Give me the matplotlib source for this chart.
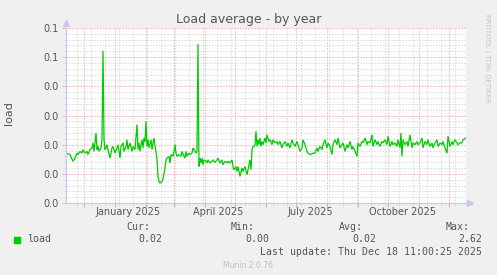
import numpy as np
import matplotlib
matplotlib.use("Agg")
import matplotlib.pyplot as plt

# ---------------- data ----------------
start_date = np.datetime64("2024-11-13T11:00")
end_date = np.datetime64("2025-12-18T11:00")

days = [0, 4, 7, 9, 11, 12, 14, 16, 17, 19, 21, 22, 24, 26, 27, 28, 30, 31, 32, 33,
        35, 36, 37, 38, 39, 40, 41, 42, 44, 46, 47, 49, 51, 52, 54, 55, 57, 58, 60, 61,
        62, 64, 66, 67, 69, 71, 72, 73, 74, 76, 77, 78, 79, 80, 81, 82, 83, 85, 86, 87,
        88, 89, 90, 91, 92, 93, 94, 96, 97, 99, 100, 101, 103, 104, 105, 107, 108, 109, 110, 111,
        113, 115, 116, 118, 119, 120, 121, 123, 124, 126, 127, 129, 130, 131, 132, 133, 134, 135, 136, 137,
        138, 140, 141, 142, 144, 146, 147, 149, 151, 152, 154, 156, 157, 159, 161, 162, 164, 166, 167, 168,
        170, 171, 172, 174, 176, 177, 179, 181, 182, 184, 185, 186, 187, 188, 189, 190, 191, 192, 193, 194,
        195, 196, 197, 199, 200, 201, 203, 204, 206, 207, 209, 211, 212, 214, 216, 217, 219, 221, 222, 224,
        226, 227, 229, 231, 232, 234, 236, 237, 239, 241, 242, 244, 246, 247, 249, 251, 252, 254, 256, 257,
        259, 261, 262, 264, 266, 267, 269, 271, 272, 274, 276, 277, 279, 281, 282, 284, 286, 287, 289, 291,
        292, 294, 296, 297, 299, 301, 302, 304, 306, 307, 309, 311, 312, 314, 316, 317, 319, 321, 322, 324,
        326, 327, 329, 331, 332, 334, 335, 336, 337, 339, 341, 342, 344, 346, 347, 349, 351, 352, 354, 356,
        357, 359, 361, 362, 364, 366, 367, 369, 371, 372, 374, 376, 377, 379, 381, 382, 384, 386, 387, 389,
        391, 392, 394, 396, 397, 400]

load = [0.0171, 0.0166, 0.0143, 0.0154, 0.0171, 0.0166, 0.0177, 0.0171, 0.0183, 0.0171,
        0.0177, 0.0166, 0.0183, 0.0189, 0.0206, 0.0177, 0.0240, 0.0183, 0.0194, 0.0177,
        0.0189, 0.0217, 0.0522, 0.0217, 0.0183, 0.0189, 0.0200, 0.0183, 0.0154, 0.0189,
        0.0194, 0.0171, 0.0189, 0.0200, 0.0154, 0.0194, 0.0206, 0.0177, 0.0194, 0.0217,
        0.0183, 0.0206, 0.0177, 0.0194, 0.0183, 0.0269, 0.0183, 0.0206, 0.0177, 0.0217,
        0.0189, 0.0223, 0.0211, 0.0280, 0.0194, 0.0217, 0.0189, 0.0217, 0.0183, 0.0206,
        0.0223, 0.0194, 0.0177, 0.0148, 0.0091, 0.0074, 0.0068, 0.0074, 0.0082, 0.0120,
        0.0148, 0.0154, 0.0160, 0.0137, 0.0166, 0.0160, 0.0177, 0.0200, 0.0171, 0.0160,
        0.0166, 0.0160, 0.0177, 0.0160, 0.0154, 0.0177, 0.0160, 0.0171, 0.0166, 0.0171,
        0.0189, 0.0177, 0.0171, 0.0177, 0.0545, 0.0125, 0.0154, 0.0137, 0.0154, 0.0131,
        0.0148, 0.0143, 0.0137, 0.0148, 0.0137, 0.0143, 0.0148, 0.0139, 0.0148, 0.0154,
        0.0137, 0.0148, 0.0131, 0.0143, 0.0137, 0.0143, 0.0137, 0.0148, 0.0125, 0.0114,
        0.0125, 0.0108, 0.0125, 0.0091, 0.0120, 0.0108, 0.0125, 0.0097, 0.0114, 0.0148,
        0.0114, 0.0183, 0.0194, 0.0194, 0.0200, 0.0246, 0.0194, 0.0217, 0.0200, 0.0223,
        0.0194, 0.0211, 0.0200, 0.0223, 0.0206, 0.0234, 0.0211, 0.0217, 0.0200, 0.0217,
        0.0206, 0.0211, 0.0200, 0.0211, 0.0189, 0.0200, 0.0211, 0.0194, 0.0206, 0.0189,
        0.0217, 0.0206, 0.0194, 0.0211, 0.0200, 0.0177, 0.0189, 0.0217, 0.0200, 0.0177,
        0.0171, 0.0166, 0.0168, 0.0171, 0.0171, 0.0189, 0.0177, 0.0194, 0.0183, 0.0200,
        0.0217, 0.0189, 0.0206, 0.0194, 0.0166, 0.0200, 0.0217, 0.0200, 0.0223, 0.0189,
        0.0200, 0.0206, 0.0177, 0.0200, 0.0189, 0.0211, 0.0183, 0.0194, 0.0177, 0.0160,
        0.0206, 0.0194, 0.0211, 0.0206, 0.0223, 0.0200, 0.0211, 0.0206, 0.0234, 0.0194,
        0.0217, 0.0200, 0.0211, 0.0194, 0.0211, 0.0206, 0.0217, 0.0200, 0.0229, 0.0194,
        0.0211, 0.0200, 0.0206, 0.0194, 0.0217, 0.0189, 0.0240, 0.0160, 0.0217, 0.0200,
        0.0211, 0.0194, 0.0234, 0.0189, 0.0206, 0.0200, 0.0211, 0.0200, 0.0206, 0.0223,
        0.0189, 0.0211, 0.0200, 0.0217, 0.0194, 0.0206, 0.0189, 0.0206, 0.0217, 0.0194,
        0.0206, 0.0200, 0.0211, 0.0189, 0.0171, 0.0229, 0.0194, 0.0211, 0.0200, 0.0217,
        0.0206, 0.0200, 0.0206, 0.0206, 0.0217, 0.0223]

assert len(days) == len(load)

y_ticks = [0.0, 0.01, 0.02, 0.03, 0.04, 0.05, 0.06]
y_tick_labels = ["0.0", "0.0", "0.0", "0.0", "0.0", "0.1", "0.1"]
x_label_dates = ["2025-01-14", "2025-04-15", "2025-07-16", "2025-10-16"]
x_labels = ["January 2025", "April 2025", "July 2025", "October 2025"]
month_starts = np.arange(np.datetime64("2024-12"), np.datetime64("2026-01"),
                         np.timedelta64(1, "M")).astype("datetime64[D]")
minor_dates = np.arange(np.datetime64("2024-11-24"), np.datetime64("2025-12-19"),
                        np.timedelta64(14, "D"))

legend_rows = {"Cur:": "0.02", "Min:": "0.00", "Avg:": "0.02", "Max:": "2.62"}
last_update = "Last update: Thu Dec 18 11:00:25 2025"

# ---------------- figure ----------------
W, H = 497, 275
fig = plt.figure(figsize=(W / 100, H / 100), dpi=100, facecolor="#f0f0f0")

def fx(px):
    return px / W

def fy(py):
    return 1 - py / H

ax = fig.add_axes([fx(66), fy(203), fx(466) - fx(66), fy(28) - fy(203)])
ax.set_facecolor("white")

x = start_date + np.array(days) * np.timedelta64(1, "D")
ax.plot(x, load, color="#00cc00", lw=0.9, solid_joinstyle="miter")

ax.set_xlim(start_date, end_date)
ax.set_ylim(0, 0.06)

# y ticks / grid
ax.set_yticks(y_ticks)
ax.set_yticklabels(y_tick_labels)
ax.set_yticks(np.arange(0, 0.0601, 0.002), minor=True)

# x ticks / grid
ax.set_xticks(month_starts)
ax.set_xticklabels([])
ax.set_xticks(minor_dates, minor=True)

dots = (0, (1.4, 1.4))
ax.grid(which="major", color="#f0b0b0", lw=0.72, linestyle=dots)
ax.grid(which="minor", color="#dadada", lw=0.72, linestyle=dots)
ax.set_axisbelow(True)

ax.tick_params(axis="y", which="major", length=3, width=0.7, color="#f0b0b0",
               labelsize=7, labelcolor="#555555", pad=2)
ax.tick_params(axis="y", which="minor", length=2, width=0.7, color="#dadada")
ax.tick_params(axis="x", which="major", length=3, width=0.7, color="#f0a0a0")
ax.tick_params(axis="x", which="minor", length=2, width=0.7, color="#dadada")

for s in ["top", "right"]:
    ax.spines[s].set_visible(False)
for s in ["left", "bottom"]:
    ax.spines[s].set_color("#c8c8f0")
    ax.spines[s].set_linewidth(0.9)

# axis arrows
ax.plot([0], [1.03], marker="^", ms=4, color="#c8c8f0", transform=ax.transAxes, clip_on=False)
ax.plot([1.01], [0], marker=">", ms=4, color="#c8c8f0", transform=ax.transAxes, clip_on=False)

# month labels
sec = ax.secondary_xaxis("bottom")
sec.set_xticks(np.array(x_label_dates, dtype="datetime64[D]"))
sec.set_xticklabels(x_labels)
sec.tick_params(length=0, labelsize=7, labelcolor="#555555", pad=3)
sec.spines["bottom"].set_visible(False)

# titles and labels
fig.text(0.5, fy(19), "Load average - by year", ha="center", va="center",
         fontsize=9, color="#555555")
fig.text(fx(9), fy(113), "load", rotation=90, ha="center", va="center",
         fontsize=8, color="#555555")
fig.text(fx(487), fy(58), "RRDTOOL / TOBI OETIKER", rotation=270, ha="center",
         va="center", fontsize=5, color="#c4c4c4")

mono = "DejaVu Sans Mono"
fs = 7.1
fig.patches.append(plt.Rectangle((fx(14), fy(243)), fx(6), fy(237) - fy(243),
                                 transform=fig.transFigure, color="#00cc00"))
fig.text(fx(27), fy(239.5), "load", ha="left", va="center", family=mono,
         fontsize=fs, color="#555555")
head_x = [150, 255, 363, 470]
val_x = [162.5, 269, 376, 482.5]
for (h, v), hx, vx in zip(legend_rows.items(), head_x, val_x):
    fig.text(fx(hx), fy(227.5), h, ha="right", va="center", family=mono,
             fontsize=fs, color="#555555")
    fig.text(fx(vx), fy(239.5), v, ha="right", va="center", family=mono,
             fontsize=fs, color="#555555")
fig.text(fx(482.5), fy(251.7), last_update, ha="right", va="center", family=mono,
         fontsize=fs, color="#555555")
fig.text(fx(248), fy(265), "Munin 2.0.76", ha="center", va="center",
         fontsize=5.5, color="#c0c0c0")

fig.savefig("out.png", dpi=100, facecolor=fig.get_facecolor())
